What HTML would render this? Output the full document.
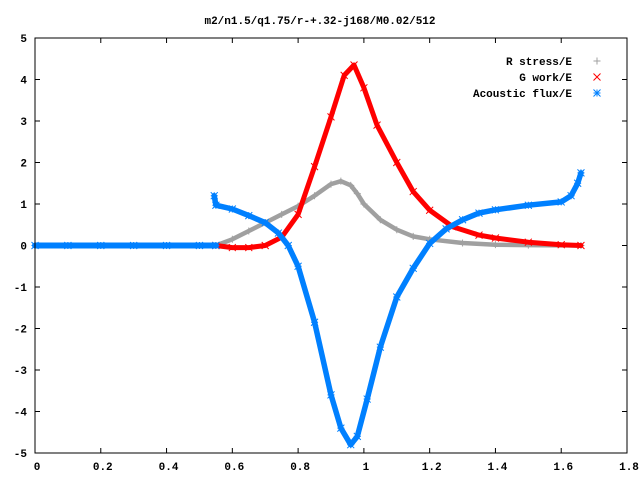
<!DOCTYPE html>
<html><head><meta charset="utf-8"><style>
body{margin:0;background:#fff;}
svg text{font-family:"Liberation Mono","DejaVu Sans Mono",monospace;font-size:11px;font-weight:bold;fill:#000;}
</style></head><body>
<svg id="chart" width="640" height="480" xmlns="http://www.w3.org/2000/svg">
<rect x="0" y="0" width="640" height="480" fill="#fff"/>
<text x="320" y="24" text-anchor="middle">m2/n1.5/q1.75/r-+.32-j168/M0.02/512</text>
<g id="axes"></g>
<g id="series"></g>
<rect x="35" y="38" width="592" height="415" fill="none" stroke="#000" stroke-width="1"/>
<g id="legend"></g>
</svg>
<script>
const xTicks=[0,0.2,0.4,0.6,0.8,1,1.2,1.4,1.6,1.8];
const xTickLabels=["0","0.2","0.4","0.6","0.8","1","1.2","1.4","1.6","1.8"];
const yTicks=[-5,-4,-3,-2,-1,0,1,2,3,4,5];
const yTickLabels=["-5","-4","-3","-2","-1","0","1","2","3","4","5"];
const seriesNames=["R stress/E","G work/E","Acoustic flux/E"];
const rStressX=[0.55,0.6,0.65,0.7,0.75,0.8,0.85,0.9,0.93,0.96,0.98,1.0,1.05,1.1,1.15,1.2,1.3,1.4,1.5,1.66];
const rStressY=[0,0.15,0.35,0.55,0.75,0.95,1.2,1.48,1.55,1.45,1.25,1.0,0.62,0.38,0.22,0.15,0.06,0.02,0.01,0];
const gWorkX=[0.55,0.6,0.65,0.7,0.75,0.8,0.85,0.9,0.94,0.97,1.0,1.04,1.1,1.15,1.2,1.27,1.35,1.4,1.5,1.6,1.66];
const gWorkY=[0,-0.05,-0.05,0,0.2,0.75,1.9,3.1,4.1,4.35,3.8,2.9,2.0,1.3,0.85,0.45,0.25,0.18,0.08,0.02,0];
const fluxZeroX=[0,0.1,0.2,0.3,0.4,0.5,0.55];
const fluxZeroY=[0,0,0,0,0,0,0];
const fluxX=[0.545,0.55,0.6,0.65,0.7,0.74,0.77,0.8,0.85,0.9,0.93,0.96,0.98,1.01,1.05,1.1,1.15,1.2,1.25,1.3,1.35,1.4,1.5,1.6,1.63,1.65,1.66];
const fluxY=[1.2,0.97,0.88,0.72,0.55,0.3,0.0,-0.5,-1.85,-3.6,-4.4,-4.8,-4.6,-3.7,-2.45,-1.24,-0.55,0.05,0.4,0.62,0.78,0.86,0.97,1.05,1.2,1.5,1.75];

const NS="http://www.w3.org/2000/svg";
const L=35,R=627,T=38,B=453,xMin=0,xMax=1.8,yMin=-5,yMax=5;
function sx(v){return L+(v-xMin)/(xMax-xMin)*(R-L);}
function sy(v){return B-(v-yMin)/(yMax-yMin)*(B-T);}
function mk(tag,attrs,parent){const e=document.createElementNS(NS,tag);for(const k in attrs)e.setAttribute(k,attrs[k]);parent.appendChild(e);return e;}
const axes=document.getElementById('axes');
xTicks.forEach((v,i)=>{
  const x=sx(v);
  const t1=mk('line',{x1:x,y1:B,x2:x,y2:B-5,stroke:'#000'},axes);
  
  
  const t2=mk('line',{x1:x,y1:T,x2:x,y2:T+5,stroke:'#000'},axes);
  
  
  const tx=mk('text',{x:x+2,y:470,'text-anchor':'middle'},axes);
  tx.textContent=xTickLabels[i];
  
  
});
yTicks.forEach((v,i)=>{
  const y=sy(v);
  const t1=mk('line',{x1:L,y1:y,x2:L+5,y2:y,stroke:'#000'},axes);
  
  
  const t2=mk('line',{x1:R,y1:y,x2:R-5,y2:y,stroke:'#000'},axes);
  
  
  const tx=mk('text',{x:27,y:y+4,'text-anchor':'end'},axes);
  tx.textContent=yTickLabels[i];
  
  
});
const sg=document.getElementById('series');
function marker(type,x,y,color,parent){
  const g=mk('g',{stroke:color,'stroke-width':1,fill:'none'},parent);
  const s=3.5;
  if(type==='plus'){mk('path',{d:`M${x-s} ${y}H${x+s}M${x} ${y-s}V${y+s}`},g);}
  else if(type==='x'){mk('path',{d:`M${x-s} ${y-s}L${x+s} ${y+s}M${x-s} ${y+s}L${x+s} ${y-s}`},g);}
  else {mk('path',{d:`M${x-s} ${y}H${x+s}M${x} ${y-s}V${y+s}M${x-s} ${y-s}L${x+s} ${y+s}M${x-s} ${y+s}L${x+s} ${y-s}`},g);}
  return g;
}
function drawSeries(xs,ys,color,width,type,name){
  const g=mk('g',{},sg);
  
  
  const pts=xs.map((v,i)=>sx(v).toFixed(1)+','+sy(ys[i]).toFixed(1)).join(' ');
  const pl=mk('polyline',{points:pts,fill:'none',stroke:color,'stroke-width':width,'stroke-linejoin':'round','stroke-linecap':'round'},g);
  
  
  xs.forEach((v,i)=>{
    const m=marker(type,sx(v),sy(ys[i]),color,g);
    
    
  });
}
drawSeries(rStressX,rStressY,'#a0a0a0',4.5,'plus','r-stress-series');
drawSeries(gWorkX,gWorkY,'#ff0000',5,'x','g-work-series');
drawSeries(fluxZeroX,fluxZeroY,'#0080ff',6,'star','acoustic-flux-zero-series');
drawSeries(fluxX,fluxY,'#0080ff',5.5,'star','acoustic-flux-series');
const lg=document.getElementById('legend');
const legColors=['#a0a0a0','#ff0000','#0080ff'];
const legTypes=['plus','x','star'];
seriesNames.forEach((n,i)=>{
  const y=61+i*16;
  const g=mk('g',{},lg);
  
  
  const t=mk('text',{x:572,y:y+4,'text-anchor':'end'},g);
  t.textContent=n;
  
  
  const m=marker(legTypes[i],597,y,legColors[i],g);
  
  
});
</script>
</body></html>
